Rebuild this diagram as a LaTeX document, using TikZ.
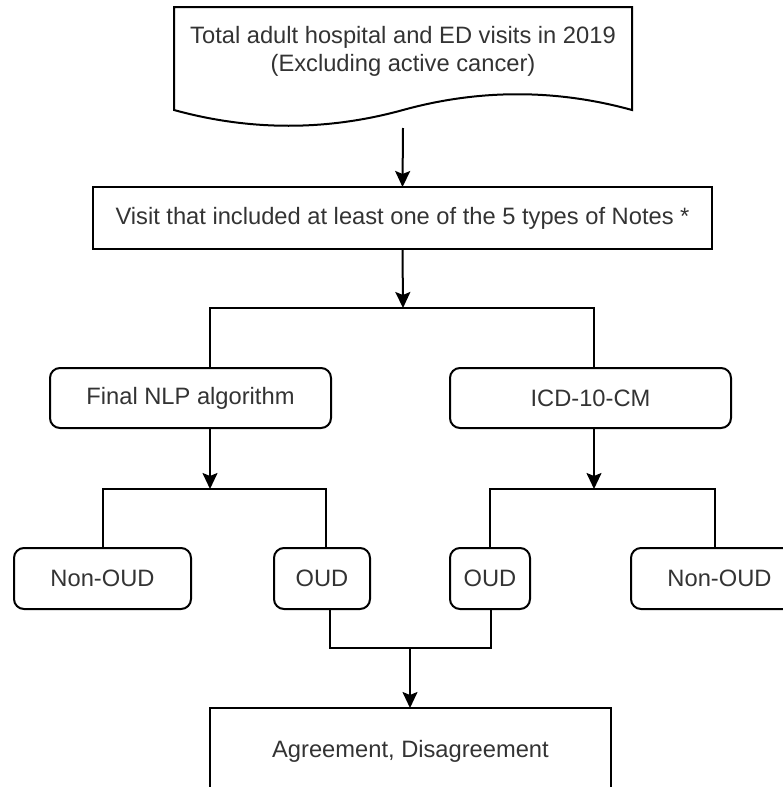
\documentclass[tikz,border=0pt]{standalone}
\usepackage{fontspec}
\setmainfont{Liberation Sans}
\usetikzlibrary{arrows.meta}
\definecolor{txt}{HTML}{333333}
\begin{document}
\begin{tikzpicture}[x=1pt,y=-1pt,
  every node/.style={font=\fontsize{23.7}{28}\selectfont, text=txt, inner sep=0pt, outer sep=0pt},
  box/.style={draw=black, line width=2pt},
  rbox/.style={draw=black, line width=2pt, rounded corners=10pt},
  conn/.style={draw=black, line width=2pt},
  arr/.style={draw=black, line width=2pt, -{Stealth[length=16pt,width=15pt,inset=3pt]}}]
\useasboundingbox (0,0) rectangle (783,787);
\clip (0,0) rectangle (783,787);
% document shape
\node[minimum width=458pt, minimum height=121pt] (doc) at (403,67.5) {};
\draw[line width=2pt] (174,110) -- (174,7) -- (632,7) -- (632,110)
  .. controls (556,89) and (479,89) .. (403,110)
  .. controls (327,131) and (250,131) .. (174,110) -- cycle;
\node[align=center] (doctext) at (403,51) {Total adult hospital and ED visits in 2019\\(Excluding active cancer)};
% visit box
\node[box, minimum width=619pt, minimum height=62pt] (visit) at (402.5,218) {Visit that included at least one of the 5 types of Notes *};
% level 2
\node[rbox, minimum width=281pt, minimum height=60pt] (nlp) at (190.5,398) {Final NLP algorithm};
\node[rbox, minimum width=281pt, minimum height=60pt] (icd) at (590.5,398) {ICD-10-CM};
% level 3
\node[rbox, minimum width=177pt, minimum height=61pt] (non1) at (102.5,578.5) {Non-OUD};
\node[rbox, minimum width=96pt, minimum height=61pt] (oud1) at (322,578.5) {OUD};
\node[rbox, minimum width=80pt, minimum height=61pt] (oud2) at (490,578.5) {OUD};
\node[rbox, minimum width=177pt, minimum height=61pt] (non2) at (719.5,578.5) {Non-OUD};
% bottom
\node[box, minimum width=401pt, minimum height=86pt] (agree) at (410.5,751) {Agreement, Disagreement};
% split coordinates
\coordinate (s1) at (403,308);
\coordinate (s2) at (210,489);
\coordinate (s3) at (594,489);
\coordinate (s4) at (410,648);
% connectors
\draw[arr] (doc.south) -- (visit.north);
\draw[arr] (visit.south) -- (s1);
\draw[conn] ([xshift=19.5pt]nlp.north) |- (s1) -| ([xshift=3.5pt]icd.north);
\draw[arr] ([xshift=19.5pt]nlp.south) -- (s2);
\draw[arr] ([xshift=3.5pt]icd.south) -- (s3);
\draw[conn] (non1.north) |- (s2) -| ([xshift=4pt]oud1.north);
\draw[conn] (oud2.north) |- (s3) -| ([xshift=-4.5pt]non2.north);
\draw[conn] ([xshift=8pt]oud1.south) |- (s4) -| ([xshift=1pt]oud2.south);
\draw[arr] (s4) -- (agree.north -| s4);
\end{tikzpicture}
\end{document}
